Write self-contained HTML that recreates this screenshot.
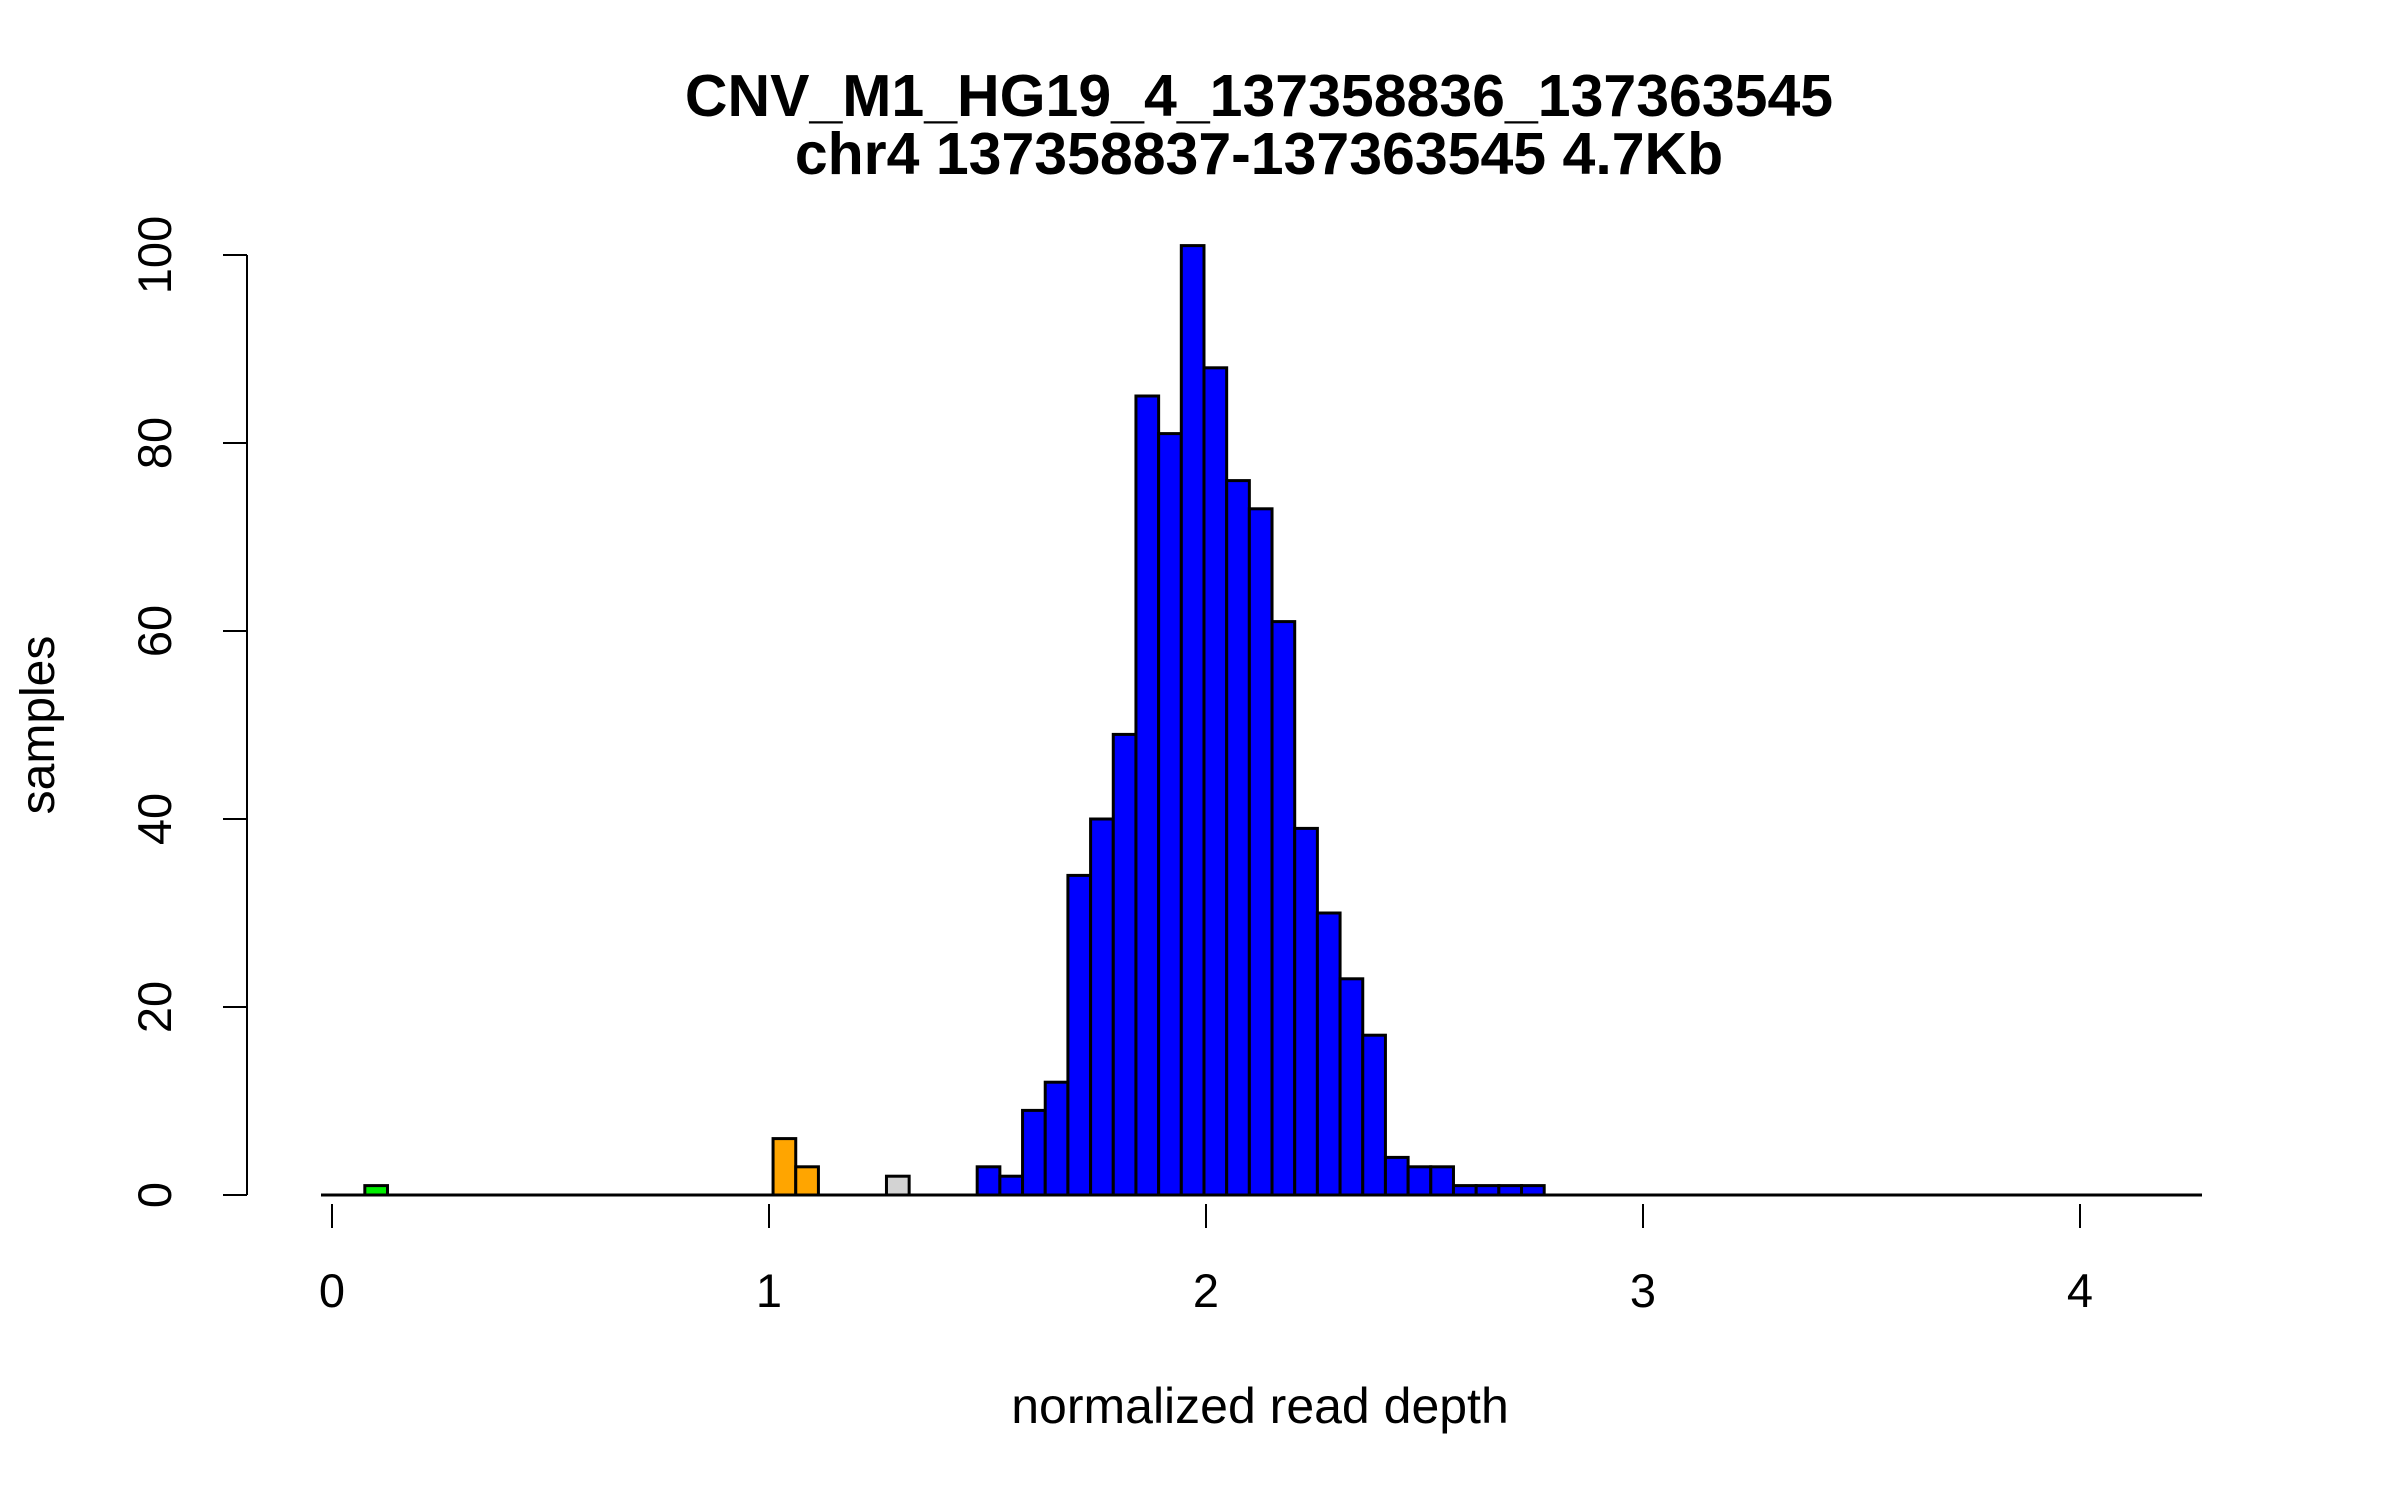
<!DOCTYPE html>
<html><head><meta charset="utf-8"><style>
html,body{margin:0;padding:0;background:#fff}
svg text{font-family:"Liberation Sans",sans-serif;fill:#000}
</style></head><body>
<svg id="chart" width="2400" height="1500" viewBox="0 0 2400 1500" xmlns="http://www.w3.org/2000/svg">
<text x="1259" y="116" font-size="59" font-weight="bold" text-anchor="middle">CNV_M1_HG19_4_137358836_137363545</text>
<text x="1259" y="174" font-size="59" font-weight="bold" text-anchor="middle">chr4 137358837-137363545 4.7Kb</text>
<text x="1260" y="1423" font-size="50" text-anchor="middle">normalized read depth</text>
<text transform="translate(54,725) rotate(-90)" font-size="48" text-anchor="middle">samples</text>
<g id="bars"></g><g id="axes"></g>
</svg>
<script>
const binStart = 0.0751;
const binWidth = 0.0519;
const counts = [1,0,0,0,0,0,0,0,0,0,0,0,0,0,0,0,0,0,6,3,0,0,0,2,0,0,0,
  3,2,9,12,34,40,49,85,81,101,88,76,73,61,39,30,23,17,4,3,3,1,1,1,1];
const categories = ['del2','', '', '', '', '', '', '', '', '', '', '', '', '', '', '', '', '', 'del1','del1','', '', '', 'amb', '', '', ''];
const catColors = {del2:'#00ee00',del1:'#ffa500',amb:'#d3d3d3',normal:'#0000ff'};
const xTicks = [0,1,2,3,4];
const yTicks = [0,20,40,60,80,100];
const NS='http://www.w3.org/2000/svg';
const sx = v => 332 + v*437;
const sy = v => 1195 - v*9.40;
const bars=document.getElementById('bars'), axes=document.getElementById('axes');
function mk(tag,attrs,parent){const e=document.createElementNS(NS,tag);for(const k in attrs)e.setAttribute(k,attrs[k]);parent.appendChild(e);return e;}
counts.forEach((c,i)=>{
  if(c<=0) return;
  const x0=sx(binStart+i*binWidth), x1=sx(binStart+(i+1)*binWidth);
  const cat=categories[i]||'normal';
  const r=mk('rect',{x:x0,y:sy(c),width:x1-x0,height:sy(0)-sy(c),fill:catColors[cat],stroke:'#000','stroke-width':3},bars);
  
  
});
const base=mk('line',{x1:321,x2:2202,y1:sy(0),y2:sy(0),stroke:'#000','stroke-width':3},axes);


xTicks.forEach(t=>{
  const l=mk('line',{x1:sx(t),x2:sx(t),y1:1204,y2:1228,stroke:'#000','stroke-width':2},axes);
  
  
  const tx=mk('text',{x:sx(t),y:1307,'font-size':47,'text-anchor':'middle'},axes);
  tx.textContent=t;
  
  
});
const ya=mk('line',{x1:247,x2:247,y1:sy(yTicks[0]),y2:sy(yTicks[yTicks.length-1]),stroke:'#000','stroke-width':2},axes);


yTicks.forEach(t=>{
  const l=mk('line',{x1:223,x2:247,y1:sy(t),y2:sy(t),stroke:'#000','stroke-width':2},axes);
  
  
  const tx=mk('text',{transform:`translate(171,${sy(t)}) rotate(-90)`,'font-size':47,'text-anchor':'middle'},axes);
  tx.textContent=t;
  
  
});
</script>
</body></html>
